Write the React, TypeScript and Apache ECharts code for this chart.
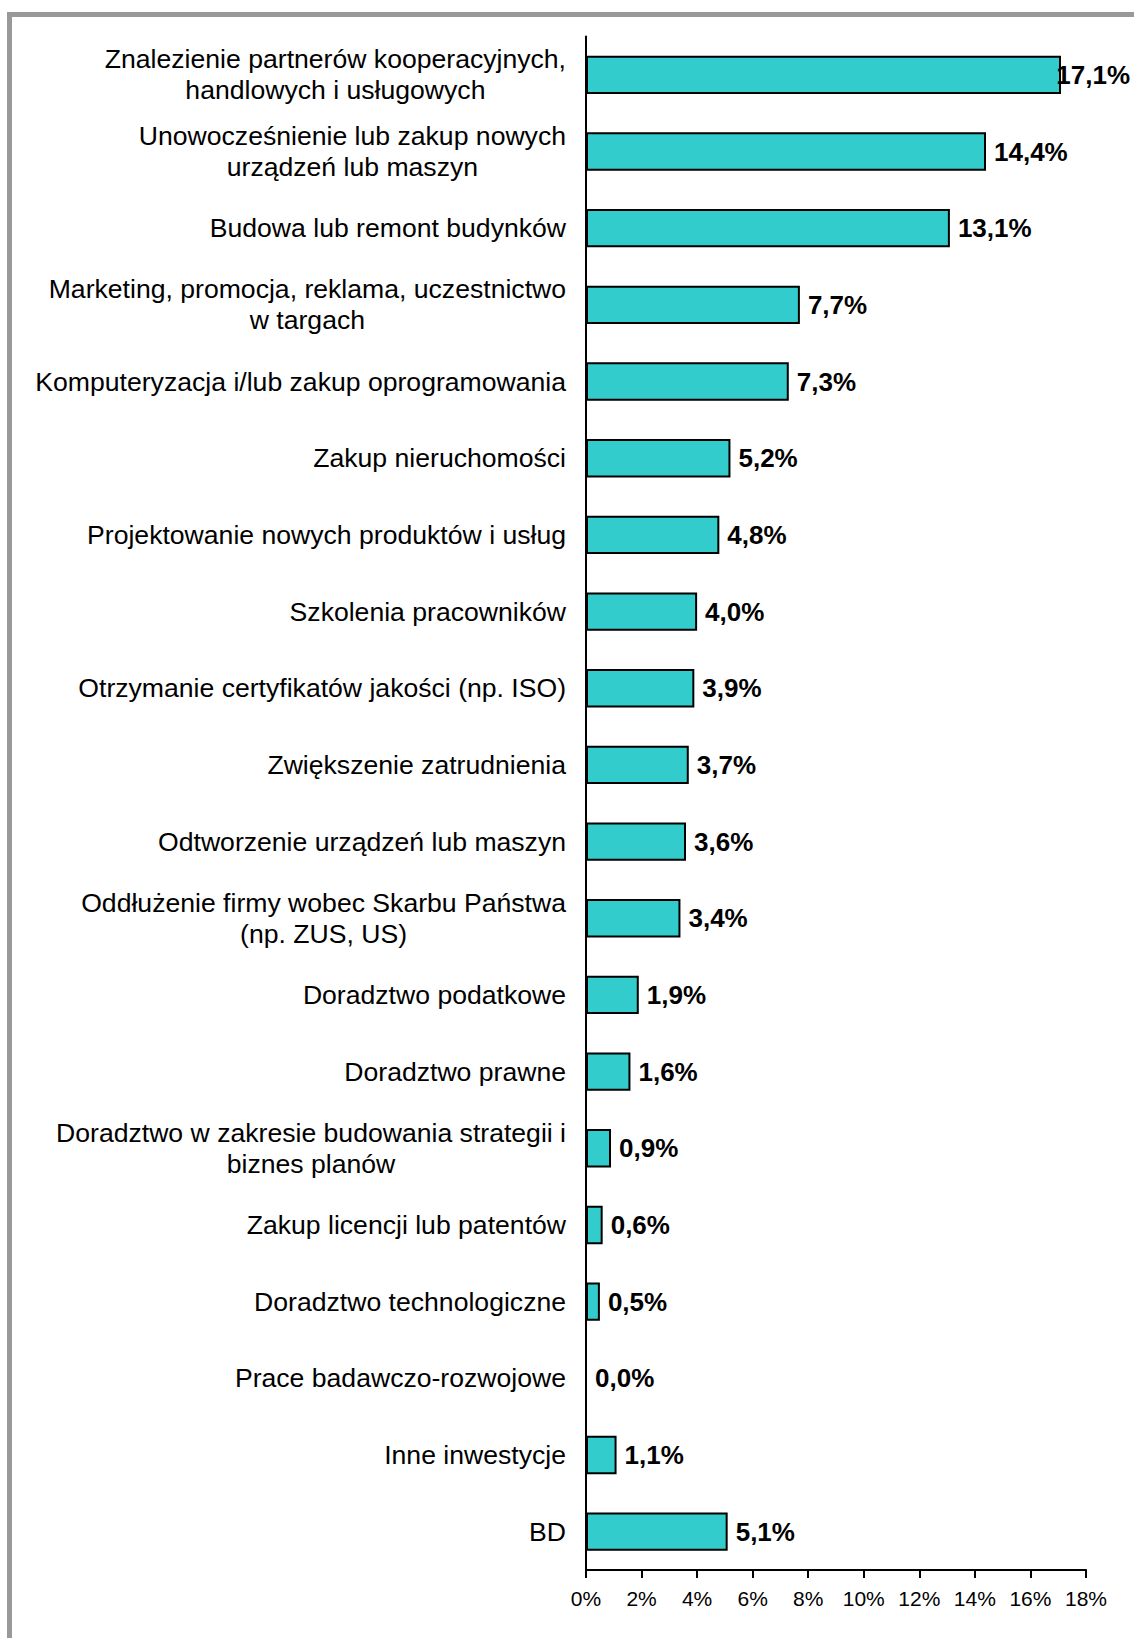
import React, { useEffect, useRef } from "react";
import * as echarts from "echarts";

const categories: string[] = [
  "Znalezienie partnerów kooperacyjnych,\nhandlowych i usługowych",
  "Unowocześnienie lub zakup nowych\nurządzeń lub maszyn",
  "Budowa lub remont budynków",
  "Marketing, promocja, reklama, uczestnictwo\nw targach",
  "Komputeryzacja i/lub zakup oprogramowania",
  "Zakup nieruchomości",
  "Projektowanie nowych produktów i usług",
  "Szkolenia pracowników",
  "Otrzymanie certyfikatów jakości (np. ISO)",
  "Zwiększenie zatrudnienia",
  "Odtworzenie urządzeń lub maszyn",
  "Oddłużenie firmy wobec Skarbu Państwa\n(np. ZUS, US)",
  "Doradztwo podatkowe",
  "Doradztwo prawne",
  "Doradztwo w zakresie budowania strategii i\nbiznes planów",
  "Zakup licencji lub patentów",
  "Doradztwo technologiczne",
  "Prace badawczo-rozwojowe",
  "Inne inwestycje",
  "BD",
];

const values: number[] = [
  17.1, 14.4, 13.1, 7.7, 7.3, 5.2, 4.8, 4.0, 3.9, 3.7, 3.6, 3.4, 1.9, 1.6, 0.9,
  0.6, 0.5, 0.0, 1.1, 5.1,
];

const xTickValues: number[] = [0, 2, 4, 6, 8, 10, 12, 14, 16, 18];

const W = 1134;
const H = 1638;
const FONT = "'Liberation Sans', Arial, Helvetica, sans-serif";

export default function App() {
  const ref = useRef<HTMLDivElement>(null);

  useEffect(() => {
    document.body.style.margin = "0";
    if (!ref.current) return;
    const chart = echarts.init(ref.current, null, { renderer: "svg" });
    const option: any = {
      animation: false,
      backgroundColor: "#ffffff",
      textStyle: { fontFamily: FONT },
      graphic: [
        {
          type: "rect",
          shape: { x: 9.5, y: 14.5, width: 3000, height: 3000 },
          style: { fill: "none", stroke: "#999999", lineWidth: 5 },
          silent: true,
          z: 100,
        },
      ],
      grid: {
        left: 586,
        right: W - 1086,
        top: 36.5,
        bottom: H - 1570,
        outerBoundsMode: "none",
        containLabel: false,
      },
      xAxis: {
        type: "value",
        min: xTickValues[0],
        max: xTickValues[xTickValues.length - 1],
        interval: xTickValues[1] - xTickValues[0],
        splitLine: { show: false },
        axisLine: { show: true, lineStyle: { color: "#000", width: 2 } },
        axisTick: {
          show: true,
          inside: false,
          length: 8,
          lineStyle: { color: "#000", width: 2 },
        },
        axisLabel: {
          formatter: (v: number) => `${v}%`,
          fontSize: 21,
          color: "#000",
          fontFamily: FONT,
          margin: 18,
        },
      },
      yAxis: {
        type: "category",
        data: categories,
        inverse: true,
        axisLine: { show: true, lineStyle: { color: "#000", width: 2 } },
        axisTick: { show: false },
        axisLabel: {
          margin: 20,
          color: "#000",
          fontSize: 26.6,
          fontFamily: FONT,
          lineHeight: 31,
          formatter: (v: string) =>
            v
              .split("\n")
              .map((l) => `{c|${l}}`)
              .join("\n"),
          rich: {
            c: {
              align: "center",
              fontSize: 26.6,
              lineHeight: 31,
              color: "#000",
              fontFamily: FONT,
            },
          },
        },
      },
      series: [
        {
          type: "bar",
          data: values,
          barCategoryGap: "50%",
          itemStyle: {
            color: "#33CCCC",
            borderColor: "#000",
            borderWidth: 2,
          },
          label: {
            show: true,
            position: "right",
            distance: 8,
            fontSize: 26,
            fontWeight: "bold",
            color: "#000",
            fontFamily: FONT,
            formatter: (p: any) =>
              `${Number(p.value).toFixed(1).replace(".", ",")}%`,
          },
          labelLayout: (params: any) => {
            const r = params.labelRect;
            const over = r.x + r.width - (W - 4);
            return over > 0 ? { dx: -over } : {};
          },
        },
      ],
    };
    chart.setOption(option);
    return () => {
      chart.dispose();
    };
  }, []);

  return (
    <div
      ref={ref}
      style={{
        position: "absolute",
        left: 0,
        top: 0,
        width: W,
        height: H,
        overflow: "hidden",
      }}
    />
  );
}
